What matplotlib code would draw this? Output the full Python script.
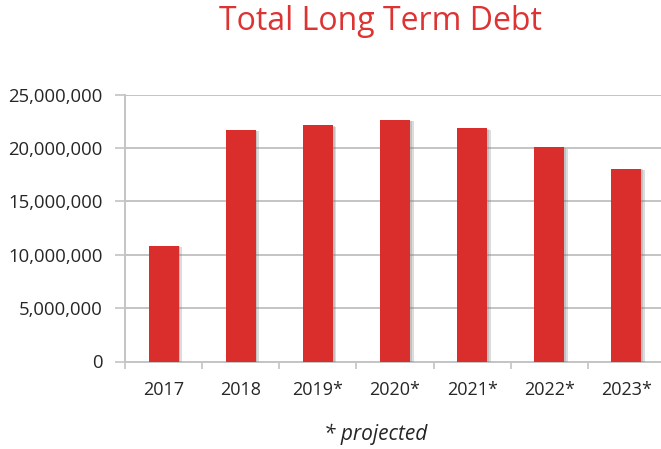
import matplotlib.pyplot as plt
import matplotlib.patheffects as pe
from matplotlib.ticker import FuncFormatter

years = ['2017', '2018', '2019*', '2020*', '2021*', '2022*', '2023*']
debt = [10860000, 21690000, 22130000, 22630000, 21850000, 20070000, 18060000]
yticks = [0, 5000000, 10000000, 15000000, 20000000, 25000000]

red = '#d92e2b'
grid = '#c4c4c4'
txt = '#262626'

plt.rcParams['font.family'] = ['Open Sans', 'DejaVu Sans']

fig = plt.figure(figsize=(6.61, 4.49), dpi=100)
ax = fig.add_axes([125 / 661, 87.5 / 449, 540 / 661, 266.8 / 449])

x = list(range(len(years)))
bars = ax.bar(x, debt, width=0.39, color=red, zorder=3)
for b in bars:
    b.set_path_effects([pe.SimplePatchShadow(offset=(2.5, -1), shadow_rgbFace='#777777', alpha=0.25),
                        pe.SimplePatchShadow(offset=(1.2, -0.5), shadow_rgbFace='#777777', alpha=0.25),
                        pe.Normal()])

ax.set_xlim(-0.5, len(years) - 0.5)
ax.set_ylim(0, 25000000)
ax.set_yticks(yticks)
ax.yaxis.set_major_formatter(FuncFormatter(lambda v, p: f'{int(v):,}'))
ax.grid(axis='y', color=grid, linewidth=1.4, zorder=0)

# boundary ticks between categories, labels centred on the bars
ax.set_xticks([i - 0.5 for i in x], minor=False)
ax.set_xticklabels([])
ax.set_xticks(x, minor=True)
ax.set_xticklabels(years, minor=True)
ax.tick_params(axis='x', which='minor', length=0, pad=14, labelsize=13, labelcolor=txt)
ax.tick_params(axis='x', which='major', length=5, color=grid, width=1.2)
ax.tick_params(axis='y', length=7, color=grid, width=1.2, pad=9, labelsize=13.3, labelcolor=txt)

for s in ['top', 'right']:
    ax.spines[s].set_visible(False)
ax.spines['left'].set_color(grid)
ax.spines['bottom'].set_color(grid)
ax.spines['left'].set_linewidth(1.4)
ax.spines['bottom'].set_linewidth(1.4)

fig.text(380 / 661, 1 - 22 / 449, 'Total Long Term Debt', color='#dd3333', fontsize=23,
         ha='center', va='center')
fig.text(376 / 661, 1 - 434 / 449, '* projected', color=txt, fontsize=15, style='italic',
         ha='center', va='center')

fig.savefig('out.png', dpi=100)
